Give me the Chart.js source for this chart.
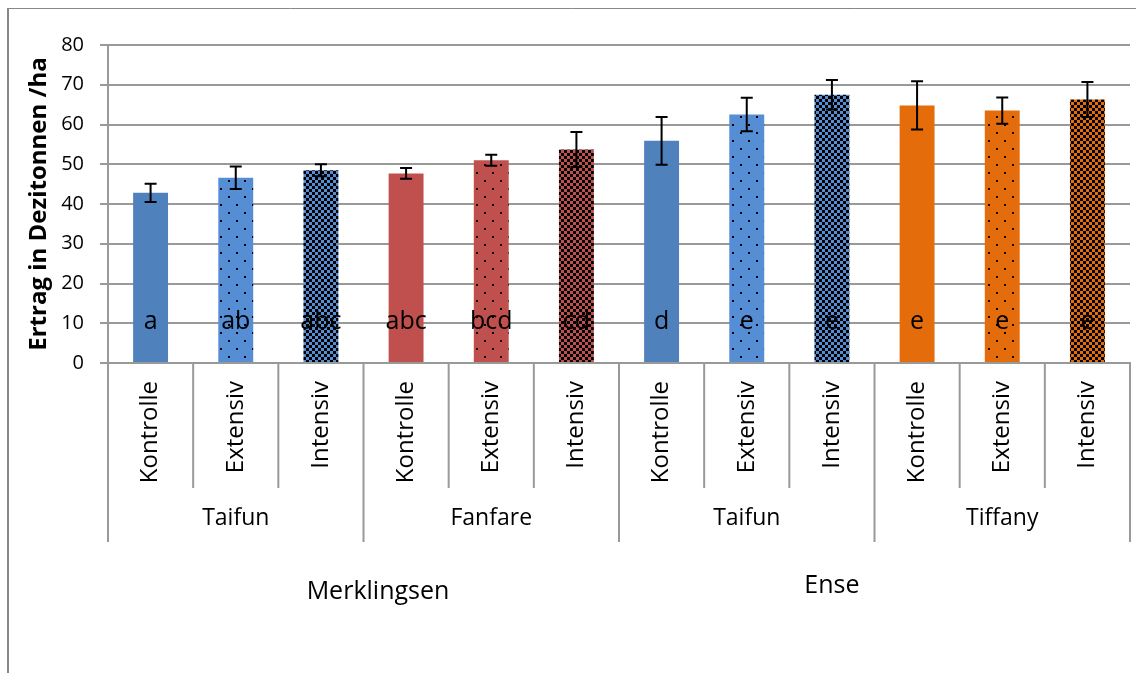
<!DOCTYPE html>
<html>
<head>
<meta charset="utf-8">
<script src="https://cdn.jsdelivr.net/npm/chart.js@4"></script>
<style>
  html, body { margin: 0; padding: 0; background: #fff; }
  #wrap { position: relative; width: 1136px; height: 673px; }
</style>
</head>
<body>
<div id="wrap"><canvas id="chart"></canvas></div>
<script>
// ---- data ----
const treatments = ['Kontrolle', 'Extensiv', 'Intensiv', 'Kontrolle', 'Extensiv', 'Intensiv',
                    'Kontrolle', 'Extensiv', 'Intensiv', 'Kontrolle', 'Extensiv', 'Intensiv'];
const varieties = ['Taifun', 'Fanfare', 'Taifun', 'Tiffany'];
const locations = ['Merklingsen', 'Ense'];
const yieldValues = [42.8, 46.6, 48.5, 47.7, 51.0, 53.7, 55.9, 62.5, 67.5, 64.8, 63.5, 66.3];
const yieldErrors = [2.3, 2.85, 1.5, 1.35, 1.4, 4.4, 6.0, 4.2, 3.7, 6.05, 3.3, 4.4];
const sigLetters = ['a', 'ab', 'abc', 'abc', 'bcd', 'cd', 'd', 'e', 'e', 'e', 'e', 'e'];
const yTicks = [0, 10, 20, 30, 40, 50, 60, 70, 80];

const FONT = '"Open Sans", "DejaVu Sans", sans-serif';
const GRID = '#999999';

// bar fills: plain / dotted / checkered in the variety colour
function makePattern(color, kind) {
  const c = document.createElement('canvas');
  const size = kind === 'dots' ? 16 : 6;
  c.width = c.height = size;
  const g = c.getContext('2d');
  g.fillStyle = color; g.fillRect(0, 0, size, size);
  g.fillStyle = '#000';
  if (kind === 'dots') { g.fillRect(4, 4, 2, 2); g.fillRect(12, 12, 2, 2); }
  else { g.fillRect(0, 0, 3, 3); g.fillRect(3, 3, 3, 3); }
  return g.createPattern(c, 'repeat');
}
const fills = [
  '#4F81BD', makePattern('#558ED5', 'dots'), makePattern('#558ED5', 'check'),
  '#C0504D', makePattern('#C0504D', 'dots'), makePattern('#C0504D', 'check'),
  '#4F81BD', makePattern('#558ED5', 'dots'), makePattern('#558ED5', 'check'),
  '#E46C0A', makePattern('#E46C0A', 'dots'), makePattern('#E46C0A', 'check'),
];

// ---- plugins ----
const frame = {
  id: 'frame',
  beforeDraw(chart) {
    const { ctx, width, height } = chart;
    ctx.save();
    ctx.strokeStyle = '#888';
    ctx.lineWidth = 1;
    ctx.beginPath();
    ctx.moveTo(8.5, 8.5); ctx.lineTo(width, 8.5);
    ctx.stroke();
    ctx.lineWidth = 2;
    ctx.beginPath(); ctx.moveTo(8, height); ctx.lineTo(8, 8); ctx.stroke();
    ctx.restore();
  }
};

const errorBars = {
  id: 'errorBars',
  afterDatasetsDraw(chart) {
    const { ctx, scales: { y } } = chart;
    const meta = chart.getDatasetMeta(0);
    ctx.save();
    // significance letters
    ctx.fillStyle = '#000';
    ctx.font = '25px ' + FONT;
    ctx.textAlign = 'center';
    ctx.textBaseline = 'middle';
    meta.data.forEach((bar, i) => ctx.fillText(sigLetters[i], bar.x, y.getPixelForValue(10.3)));
    // whiskers
    ctx.strokeStyle = '#000';
    ctx.lineWidth = 2;
    meta.data.forEach((bar, i) => {
      const hi = y.getPixelForValue(yieldValues[i] + yieldErrors[i]);
      const lo = y.getPixelForValue(yieldValues[i] - yieldErrors[i]);
      ctx.beginPath();
      ctx.moveTo(bar.x, hi); ctx.lineTo(bar.x, lo);
      ctx.moveTo(bar.x - 6, hi); ctx.lineTo(bar.x + 6, hi);
      ctx.moveTo(bar.x - 6, lo); ctx.lineTo(bar.x + 6, lo);
      ctx.stroke();
    });
    ctx.restore();
  }
};

// multi-level category axis: separators, variety and location labels
const groupAxis = {
  id: 'groupAxis',
  afterDraw(chart) {
    const { ctx, scales: { x } } = chart;
    const step = x.getPixelForValue(1) - x.getPixelForValue(0);
    const top = x.top;
    ctx.save();
    ctx.strokeStyle = GRID;
    ctx.lineWidth = 2;
    for (let i = 0; i <= treatments.length; i++) {
      const px = x.getPixelForValue(i) - step / 2;
      ctx.beginPath();
      ctx.moveTo(px, top);
      ctx.lineTo(px, top + (i % 3 === 0 ? 179 : 125));
      ctx.stroke();
    }
    ctx.fillStyle = '#000';
    ctx.textAlign = 'center';
    ctx.textBaseline = 'middle';
    ctx.font = '23px ' + FONT;
    varieties.forEach((v, g) => ctx.fillText(v, x.getPixelForValue(g * 3 + 1), top + 155));
    ctx.font = '25px ' + FONT;
    ctx.fillText(locations[0], x.getPixelForValue(2.67), top + 229);
    ctx.fillText(locations[1], x.getPixelForValue(8.0), top + 223);
    ctx.restore();
  }
};

new Chart(document.getElementById('chart'), {
  type: 'bar',
  data: {
    labels: treatments,
    datasets: [{
      data: yieldValues,
      backgroundColor: fills,
      borderWidth: 0,
      barPercentage: 0.41,
      categoryPercentage: 1,
    }],
  },
  options: {
    responsive: true, maintainAspectRatio: false, animation: false,
    layout: { padding: { top: 45, right: 6, left: 0, bottom: 0 } },
    plugins: { legend: { display: false }, tooltip: { enabled: false } },
    scales: {
      x: {
        grid: { display: true, drawOnChartArea: false, drawTicks: false },
        border: { color: GRID, width: 2 },
        ticks: { autoSkip: false, minRotation: 90, maxRotation: 90, padding: 18,
                 color: '#000', font: { family: FONT, size: 24 } },
        afterFit: s => { s.height = 310; },
      },
      y: {
        min: 0, max: 80,
        afterBuildTicks: s => { s.ticks = yTicks.map(v => ({ value: v })); },
        grid: { color: GRID, lineWidth: 2, tickLength: 8 },
        border: { color: GRID, width: 2 },
        ticks: { padding: 16, color: '#000', font: { family: FONT, size: 20 } },
        title: { display: true, text: 'Ertrag in Dezitonnen /ha', color: '#000',
                 font: { family: FONT, size: 24, weight: 'bold' }, padding: { top: 25, bottom: 0 } },
        afterFit: s => { s.width = 108; },
      },
    },
  },
  plugins: [frame, errorBars, groupAxis],
});
</script>
</body>
</html>
